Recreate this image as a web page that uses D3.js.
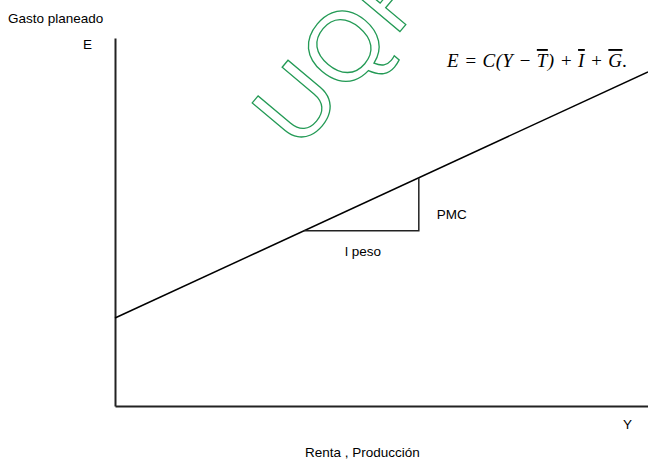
<!DOCTYPE html>
<html>
<head>
<meta charset="utf-8">
<script src="https://cdn.jsdelivr.net/npm/d3@7"></script>
<style>
  html, body { margin: 0; padding: 0; background: #fff; }
  .lbl { font-family: "Liberation Sans", Arial, sans-serif; font-size: 13.5px; fill: #000; }
</style>
</head>
<body>
<div class="Chart"></div>
<script>
// renta (Y) en unidades arbitrarias y gasto planeado E = C(Y - T) + I + G
const incomeLevels = [0, 10];
const plannedSpending = [2.39, 9.08];
const triangleIncome = [3.55, 5.7];
const axisDomainY = [0, 10];
const axisDomainX = [0, 10];

const w = 648;
const h = 460;

const xScale = d3.scaleLinear().domain(axisDomainX).range([115, 648]);
const yScale = d3.scaleLinear().domain(axisDomainY).range([406, 38]);

const spendingAt = d3.scaleLinear().domain(incomeLevels).range(plannedSpending);

const svg = d3
  .select(".Chart")
  .append("svg")
  .attr("width", w)
  .attr("height", h)
  .style("display", "block");

// marca de agua
svg
  .append("text")
  .text("UQP")
  .attr("transform", "translate(299,152) rotate(-50)")
  .attr("font-family", "Liberation Sans, Arial, sans-serif")
  .attr("font-size", 98)
  .attr("letter-spacing", 1)
  .attr("fill", "none")
  .attr("stroke", "#239a55")
  .attr("stroke-width", 1.3);

// ejes
const xAxis = d3.axisBottom(xScale).ticks(0).tickSize(0).tickSizeOuter(0);
const yAxis = d3.axisLeft(yScale).ticks(0).tickSize(0).tickSizeOuter(0);

svg
  .append("g")
  .attr("transform", "translate(0," + yScale(0) + ")")
  .call(xAxis)
  .select(".domain")
  .attr("stroke", "#222")
  .attr("stroke-width", 2);

svg
  .append("g")
  .attr("transform", "translate(" + xScale(0) + ",0)")
  .call(yAxis)
  .select(".domain")
  .attr("stroke", "#222")
  .attr("stroke-width", 2);

// recta de gasto planeado
const line = d3
  .line()
  .x(d => xScale(d))
  .y(d => yScale(spendingAt(d)));

svg
  .append("path")
  .attr("d", line(incomeLevels))
  .attr("stroke", "#000")
  .attr("stroke-width", 1.5)
  .attr("fill", "none");

// triangulo de la PMC
const triPoints = [
  [triangleIncome[0], spendingAt(triangleIncome[0])],
  [triangleIncome[1], spendingAt(triangleIncome[0])],
  [triangleIncome[1], spendingAt(triangleIncome[1])]
];

svg
  .append("polyline")
  .attr("points", triPoints.map(p => xScale(p[0]) + "," + yScale(p[1])).join(" "))
  .attr("stroke", "#222")
  .attr("stroke-width", 1.5)
  .attr("fill", "none");

// textos
svg.append("text").attr("class", "lbl").attr("x", 8).attr("y", 23).text("Gasto planeado");
svg.append("text").attr("class", "lbl").attr("x", 83).attr("y", 49).text("E");
svg.append("text").attr("class", "lbl").attr("x", 623).attr("y", 429).text("Y");
svg.append("text").attr("class", "lbl").attr("x", 305).attr("y", 457).text("Renta , Producción");
svg
  .append("text")
  .attr("class", "lbl")
  .attr("x", xScale(triangleIncome[1]) + 18)
  .attr("y", 219)
  .text("PMC");
svg
  .append("text")
  .attr("class", "lbl")
  .attr("x", 345)
  .attr("y", 256)
  .text("l peso");

// ecuacion
const eq = svg
  .append("text")
  .attr("x", 447)
  .attr("y", 67)
  .attr("font-family", "Liberation Serif, Times New Roman, serif")
  .attr("font-style", "italic")
  .attr("font-size", 19)
  .attr("letter-spacing", 0.4)
  .attr("fill", "#000");

const eqParts = [
  ["E", false], [" = ", false], ["C", false], ["(Y \u2212 ", false], ["T", true],
  [") + ", false], ["I", true], [" + ", false], ["G", true], [".", false]
];

eq.selectAll("tspan")
  .data(eqParts)
  .enter()
  .append("tspan")
  .text(d => d[0])
  .style("text-decoration", d => (d[1] ? "overline" : "none"));
</script>
</body>
</html>
